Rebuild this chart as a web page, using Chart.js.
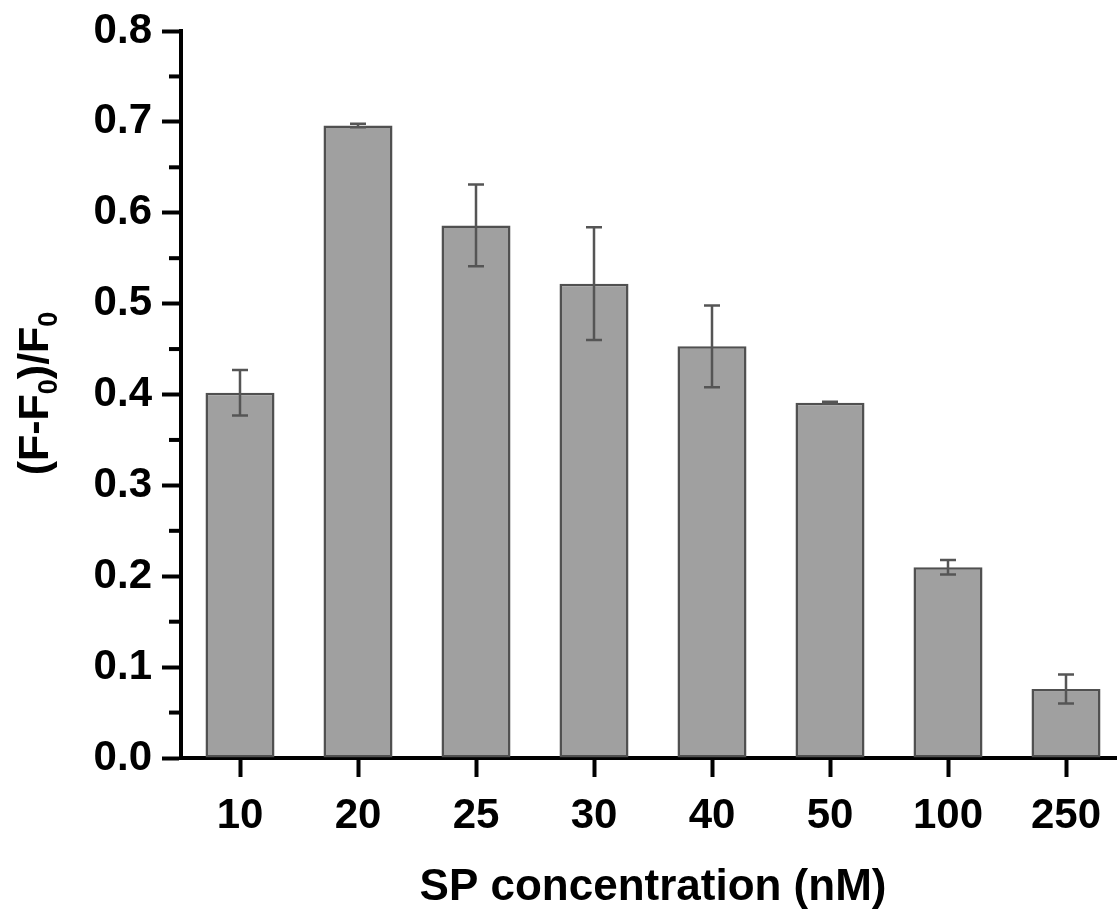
<!DOCTYPE html>
<html>
<head>
<meta charset="utf-8">
<script src="https://cdn.jsdelivr.net/npm/chart.js@4"></script>
<style>
  html, body { margin: 0; padding: 0; background: #fff; overflow: hidden; }
  canvas { display: block; }
</style>
</head>
<body>
<canvas id="c" width="1130" height="911"></canvas>
<script>
const categories = ['10', '20', '25', '30', '40', '50', '100', '250'];
const values = [0.402, 0.696, 0.586, 0.522, 0.453, 0.391, 0.210, 0.076];
const errors = [0.025, 0.002, 0.045, 0.062, 0.045, 0.001, 0.008, 0.016];
const minorTicks = [0.05, 0.15, 0.25, 0.35, 0.45, 0.55, 0.65, 0.75];

const FONT = "'Liberation Sans', Arial, sans-serif";

// error bars drawn from the y scale
const errorBars = {
  id: 'errorBars',
  afterDatasetsDraw(chart) {
    const ctx = chart.ctx;
    const y = chart.scales.y;
    const meta = chart.getDatasetMeta(0);
    ctx.save();
    ctx.strokeStyle = '#555555';
    ctx.lineWidth = 2.5;
    meta.data.forEach((bar, i) => {
      const top = y.getPixelForValue(values[i] + errors[i]);
      const bot = y.getPixelForValue(values[i] - errors[i]);
      ctx.beginPath();
      ctx.moveTo(bar.x, top);
      ctx.lineTo(bar.x, bot);
      ctx.moveTo(bar.x - 8, top);
      ctx.lineTo(bar.x + 8, top);
      ctx.moveTo(bar.x - 8, bot);
      ctx.lineTo(bar.x + 8, bot);
      ctx.stroke();
    });
    ctx.restore();
  }
};

// minor ticks + y title with subscripts
const extras = {
  id: 'extras',
  afterDraw(chart) {
    const ctx = chart.ctx;
    const y = chart.scales.y;
    const left = chart.chartArea.left;
    ctx.save();
    ctx.fillStyle = '#000';
    minorTicks.forEach(v => {
      const p = y.getPixelForValue(v);
      ctx.fillRect(left - 12, p - 2, 12, 4);
    });

    const parts = [['(F-F', false], ['0', true], [')/F', false], ['0', true]];
    const big = 'bold 43px ' + FONT;
    const small = 'bold 27px ' + FONT;
    let total = 0;
    parts.forEach(([t, s]) => { ctx.font = s ? small : big; total += ctx.measureText(t).width; });
    const cy = (chart.chartArea.top + chart.chartArea.bottom) / 2;
    ctx.translate(48, cy - 1);
    ctx.rotate(-Math.PI / 2);
    let x = -total / 2;
    ctx.textBaseline = 'alphabetic';
    parts.forEach(([t, s]) => {
      ctx.font = s ? small : big;
      ctx.fillText(t, x, s ? 9 : 0);
      x += ctx.measureText(t).width;
    });
    ctx.restore();
  }
};

new Chart(document.getElementById('c'), {
  type: 'bar',
  data: {
    labels: categories,
    datasets: [{
      data: values,
      backgroundColor: '#a0a0a0',
      borderColor: '#505050',
      borderWidth: 2.5,
      borderSkipped: false,
      categoryPercentage: 1,
      barPercentage: 0.585
    }]
  },
  options: {
    responsive: false,
    animation: false,
    layout: { padding: { top: 30, right: 5, left: 0, bottom: 0 } },
    plugins: { legend: { display: false }, tooltip: { enabled: false } },
    scales: {
      x: {
        grid: { display: true, drawOnChartArea: false, offset: false, tickLength: 19, tickWidth: 4, color: '#000' },
        border: { display: true, color: '#000', width: 4 },
        ticks: { color: '#000', padding: 14, font: { family: FONT, size: 42, weight: 'bold' } },
        title: {
          display: true, text: 'SP concentration (nM)', color: '#000',
          font: { family: FONT, size: 44, weight: 'bold' }, padding: { top: 10, bottom: -3 }
        },
        afterFit(scale) { scale.height = 153; }
      },
      y: {
        min: 0, max: 0.8,
        grid: { display: true, drawOnChartArea: false, tickLength: 19, tickWidth: 4, color: '#000' },
        border: { display: true, color: '#000', width: 4 },
        ticks: {
          stepSize: 0.1, color: '#000', padding: 10,
          font: { family: FONT, size: 42, weight: 'bold', lineHeight: 1 },
          callback: v => v.toFixed(1)
        },
        afterFit(scale) { scale.width = 181; }
      }
    }
  },
  plugins: [errorBars, extras]
});
</script>
</body>
</html>
